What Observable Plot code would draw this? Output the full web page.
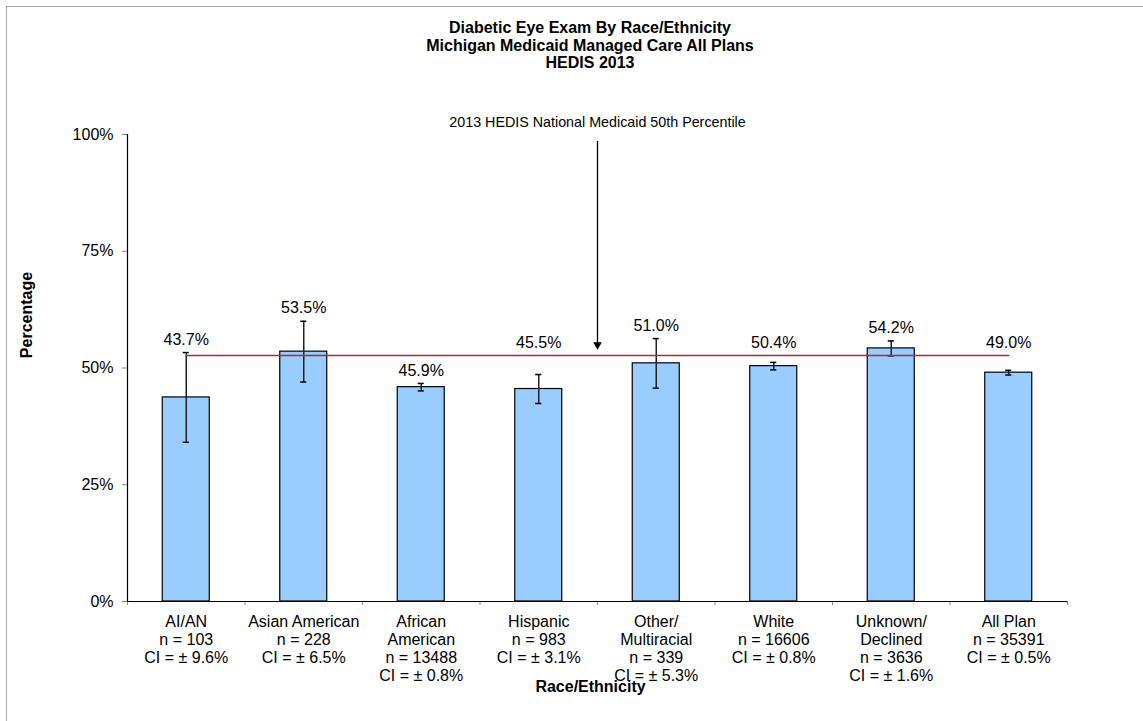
<!DOCTYPE html>
<html><head><meta charset="utf-8">
<script src="https://cdn.jsdelivr.net/npm/d3@7"></script>
<script src="https://cdn.jsdelivr.net/npm/@observablehq/plot@0.6"></script>
<style>
body{margin:0;background:#fff;font-family:"Liberation Sans",Arial,sans-serif;}
#wrap{position:relative;width:1143px;height:721px;overflow:hidden;}
#frame{position:absolute;left:6px;top:6px;right:-10px;bottom:-10px;border-top:1.5px solid #a6a6a6;border-left:1.5px solid #a6a6a6;}
#title{position:absolute;left:390px;width:400px;top:19px;text-align:center;font-weight:bold;font-size:16px;line-height:17.5px;color:#000;z-index:2;}
#chart{position:absolute;left:0;top:0;}
</style></head>
<body><div id="wrap"><div id="frame"></div><div id="title">Diabetic Eye Exam By Race/Ethnicity<br>Michigan Medicaid Managed Care All Plans<br>HEDIS 2013</div><div id="chart"></div></div>
<script>
const categories = ["AI/AN","Asian American","African\nAmerican","Hispanic","Other/\nMultiracial","White","Unknown/\nDeclined","All Plan"];
const rates = [43.7,53.5,45.9,45.5,51.0,50.4,54.2,49.0];
const counts = [103,228,13488,983,339,16606,3636,35391];
const ciHalf = [9.6,6.5,0.8,3.1,5.3,0.8,1.6,0.5];
const yTicks = [0,25,50,75,100];
const benchmark = 52.7;
const benchmarkLabel = "2013 HEDIS National Medicaid 50th Percentile";
const arrowFrom = 98.5, arrowTo = 55.0;

// value labels sit above the error bar, or above the benchmark line if they would cross it
const labelLift = 2.8, labelHalf = 1.8;
const rows = categories.map((c, i) => {
  const top = rates[i] + ciHalf[i];
  const crosses = top + labelLift - labelHalf < benchmark && top + labelLift + labelHalf > benchmark;
  return {
    i, cat: c, rate: rates[i], n: counts[i], ci: ciHalf[i],
    labelAt: crosses ? benchmark : top,
    label: `${c}\nn = ${counts[i]}\nCI = ± ${ciHalf[i].toFixed(1)}%`
  };
});
const barHalf = 0.2, capHalf = 0.026;
const font = "Liberation Sans, Arial, sans-serif";

const chart = Plot.plot({
  width: 1143, height: 721,
  marginTop: 134, marginBottom: 120, marginLeft: 127, marginRight: 76,
  style: {fontFamily: font, fontSize: "16px", background: "transparent", color: "#000"},
  x: {domain: [0, categories.length], axis: null},
  y: {domain: [0, 100], axis: null},
  marks: [
    Plot.axisY({ticks: yTicks, tickFormat: d => d + "%", tickSize: 5, tickPadding: 9, stroke: "#888", fontSize: 16, label: null}),
    Plot.axisX({ticks: d3.range(categories.length + 1), tickFormat: () => "", tickSize: 4, stroke: "#888", label: null}),
    Plot.rectY(rows, {x1: d => d.i + 0.5 - barHalf, x2: d => d.i + 0.5 + barHalf, y1: 0, y2: "rate", fill: "#99ccff", stroke: "#000", strokeWidth: 1.2}),
    Plot.ruleY([0], {stroke: "#000", strokeWidth: 1.2}),
    Plot.ruleX([0], {y1: 0, y2: 100, stroke: "#000", strokeWidth: 1.2}),
    Plot.ruleX(rows, {x: d => d.i + 0.5, y1: d => d.rate - d.ci, y2: d => d.rate + d.ci, stroke: "#222", strokeWidth: 1.5}),
    Plot.ruleY(rows, {y: d => d.rate + d.ci, x1: d => d.i + 0.5 - capHalf, x2: d => d.i + 0.5 + capHalf, stroke: "#000", strokeWidth: 1.5}),
    Plot.ruleY(rows, {y: d => d.rate - d.ci, x1: d => d.i + 0.5 - capHalf, x2: d => d.i + 0.5 + capHalf, stroke: "#000", strokeWidth: 1.5}),
    Plot.lineY(rows, {x: d => d.i + 0.5, y: () => benchmark, stroke: "#b22a2e", strokeWidth: 1.5}),
    Plot.text(rows, {x: d => d.i + 0.5, y: "labelAt", dy: -13, text: d => d.rate.toFixed(1) + "%", fontSize: 16, fill: "#000"}),
    Plot.text(rows, {x: d => d.i + 0.5, y: 0, dy: 12, lineAnchor: "top", lineHeight: 1.145, text: "label", fontSize: 16, fill: "#000"}),
    Plot.text(["Race/Ethnicity"], {frameAnchor: "bottom", dy: 90, dx: -7, fontWeight: "bold", fontSize: 16, fill: "#000"}),
    Plot.text(["Percentage"], {frameAnchor: "left", textAnchor: "middle", dx: -101, dy: -53, rotate: -90, fontWeight: "bold", fontSize: 16, fill: "#000"}),
    Plot.text([benchmarkLabel], {frameAnchor: "top", dy: -18, fontSize: 14.3, fill: "#000"}),
    Plot.ruleX([categories.length / 2], {y1: arrowFrom, y2: arrowTo, stroke: "#000", strokeWidth: 1.3}),
    Plot.dot([categories.length / 2], {x: d => d, y: arrowTo, symbol: "triangle", rotate: 180, r: 3.2, fill: "#000", stroke: "none"})
  ]
});
document.getElementById("chart").appendChild(chart);
</script>
</body></html>
